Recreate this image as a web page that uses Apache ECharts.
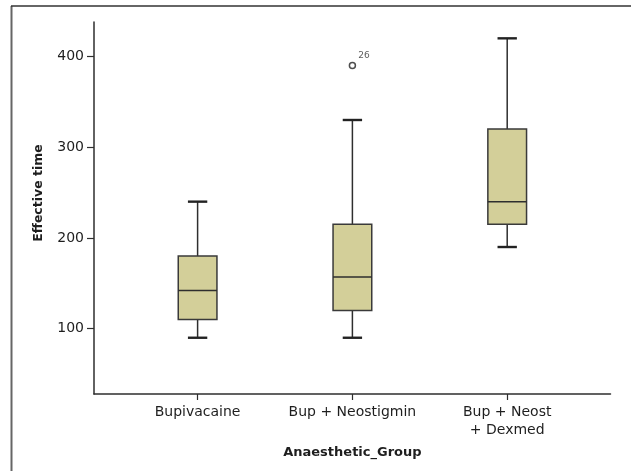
<!DOCTYPE html>
<html>
<head>
<meta charset="utf-8">
<script src="https://cdn.jsdelivr.net/npm/echarts@6/dist/echarts.min.js"></script>
<style>
html,body{margin:0;padding:0;background:#fff;}
#chart{width:631px;height:471px;}
</style>
</head>
<body>
<div id="chart"></div>
<script>
// ---- data ----
var categories = ['Bupivacaine', 'Bup + Neostigmin', 'Bup + Neost\n+ Dexmed'];
var whiskerLow = [90, 90, 190];
var q1 = [110, 120, 215];
var medians = [142, 157, 240];
var q3 = [180, 215, 320];
var whiskerHigh = [240, 330, 420];
var outlierGroup = [1];
var outlierValues = [390];
var outlierIds = ['26'];
var yTicks = [100, 200, 300, 400];
var yMin = 28, yMax = 438;

var boxData = categories.map(function (c, i) {
  return [i, whiskerLow[i], q1[i], medians[i], q3[i], whiskerHigh[i]];
});
var outlierData = outlierValues.map(function (v, i) {
  return { value: [outlierGroup[i], v], name: outlierIds[i] };
});

var FONT = 'DejaVu Sans';
var TXT = '#1e1e1e';
var LINE = '#2e2e2e';

var chart = echarts.init(document.getElementById('chart'), null, { renderer: 'canvas' });
chart.setOption({
  backgroundColor: '#ffffff',
  animation: false,
  graphic: [
    { type: 'line', silent: true, shape: { x1: 11.5, y1: 6, x2: 11.5, y2: 471 }, style: { stroke: '#666', lineWidth: 2 } },
    { type: 'line', silent: true, shape: { x1: 11, y1: 6, x2: 631, y2: 6 }, style: { stroke: '#333', lineWidth: 1.5 } }
  ],
  grid: [
    { left: 94, right: 20.5, top: 22, bottom: 77 },
    { left: 120.2, right: 46.4, top: 22, bottom: 77 }
  ],
  xAxis: [
    {
      gridIndex: 0, type: 'value', min: 0, max: 1,
      axisLine: { show: true, lineStyle: { color: LINE, width: 1.5 } },
      axisTick: { show: false }, axisLabel: { show: false }, splitLine: { show: false }
    },
    {
      gridIndex: 1, type: 'category', data: categories, boundaryGap: true,
      axisLine: { show: false },
      axisTick: { show: true, alignWithLabel: true, length: 6, lineStyle: { color: LINE, width: 1.2 } },
      axisLabel: { margin: 9, fontFamily: FONT, fontSize: 14, color: TXT, lineHeight: 18, interval: 0 },
      splitLine: { show: false },
      name: 'Anaesthetic_Group', nameLocation: 'middle', nameGap: 52,
      nameTextStyle: { fontFamily: FONT, fontSize: 13, fontWeight: 'bold', color: TXT }
    }
  ],
  yAxis: [
    {
      gridIndex: 0, type: 'value', min: yMin, max: yMax,
      axisLine: { show: true, lineStyle: { color: LINE, width: 1.5 } },
      axisTick: { show: true, length: 7, customValues: yTicks, lineStyle: { color: LINE, width: 1.2 } },
      axisLabel: { margin: 10, customValues: yTicks, fontFamily: FONT, fontSize: 14, color: TXT },
      splitLine: { show: false },
      name: 'Effective time', nameLocation: 'middle', nameGap: 49,
      nameTextStyle: { fontFamily: FONT, fontSize: 12.5, fontWeight: 'bold', color: TXT, padding: [0, 0, 0, 30] }
    },
    {
      gridIndex: 1, type: 'value', min: yMin, max: yMax, show: false,
      splitLine: { show: false }
    }
  ],
  series: [
    {
      type: 'custom',
      xAxisIndex: 1, yAxisIndex: 1,
      data: boxData,
      encode: { x: 0, y: [1, 2, 3, 4, 5] },
      renderItem: function (params, api) {
        var i = api.value(0);
        var band = api.size([1, 0])[0];
        var bw = band * 0.25, cw = band * 0.125;
        var pLow = api.coord([i, api.value(1)]);
        var pQ1 = api.coord([i, api.value(2)]);
        var pMed = api.coord([i, api.value(3)]);
        var pQ3 = api.coord([i, api.value(4)]);
        var pHigh = api.coord([i, api.value(5)]);
        var cx = pMed[0];
        var lineStyle = { stroke: LINE, lineWidth: 1.5 };
        return {
          type: 'group',
          children: [
            { type: 'line', shape: { x1: cx, y1: pHigh[1], x2: cx, y2: pQ3[1] }, style: lineStyle },
            { type: 'line', shape: { x1: cx, y1: pQ1[1], x2: cx, y2: pLow[1] }, style: lineStyle },
            { type: 'line', shape: { x1: cx - cw / 2, y1: pHigh[1], x2: cx + cw / 2, y2: pHigh[1] }, style: { stroke: '#222', lineWidth: 2.4 } },
            { type: 'line', shape: { x1: cx - cw / 2, y1: pLow[1], x2: cx + cw / 2, y2: pLow[1] }, style: { stroke: '#222', lineWidth: 2.4 } },
            { type: 'rect', shape: { x: cx - bw / 2, y: pQ3[1], width: bw, height: pQ1[1] - pQ3[1] }, style: { fill: '#d3cf99', stroke: '#3a3a3a', lineWidth: 1.5 } },
            { type: 'line', shape: { x1: cx - bw / 2, y1: pMed[1], x2: cx + bw / 2, y2: pMed[1] }, style: lineStyle }
          ]
        };
      }
    },
    {
      type: 'scatter',
      xAxisIndex: 1, yAxisIndex: 1,
      data: outlierData,
      symbol: 'circle', symbolSize: 6,
      itemStyle: { color: '#fff', borderColor: '#222', borderWidth: 1.5 },
      label: {
        show: true, position: 'right', distance: 2, offset: [0, -9.5],
        formatter: function (p) { return p.name; },
        fontFamily: FONT, fontSize: 9, color: '#333'
      }
    }
  ]
});
</script>
</body>
</html>
